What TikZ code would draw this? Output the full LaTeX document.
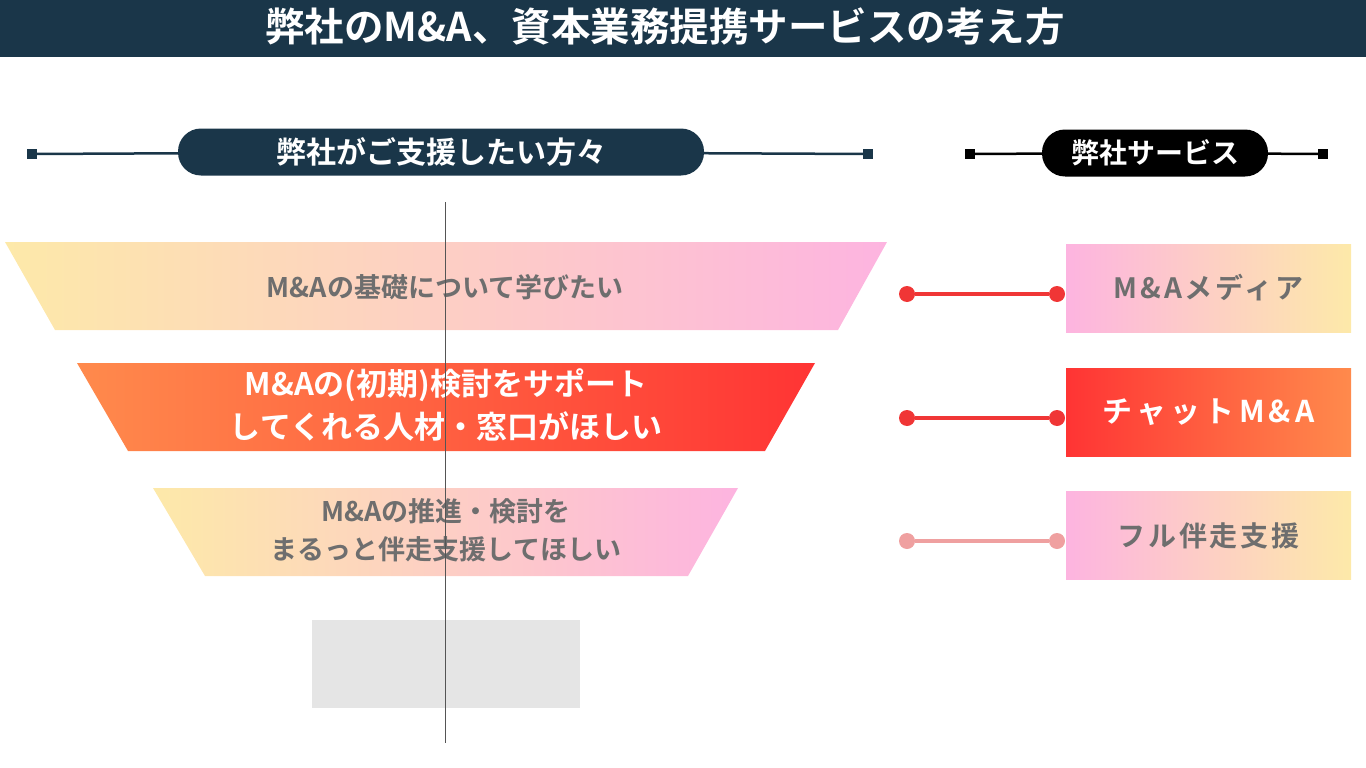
\documentclass[tikz,border=0pt]{standalone}
\usepackage{fontspec}
\setmainfont{Noto Sans CJK JP}[BoldFont={* Bold}]
\usetikzlibrary{positioning}
\definecolor{navy}{HTML}{1A3649}
\definecolor{fyellow}{HTML}{FDE9A9}
\definecolor{fpink}{HTML}{FDB4E0}
\definecolor{forange}{HTML}{FF8A4C}
\definecolor{fred}{HTML}{FF3434}
\definecolor{txtgray}{HTML}{6E6E6E}
\definecolor{linkred}{HTML}{F03636}
\definecolor{linkpale}{HTML}{EFA0A0}
\definecolor{boxgray}{HTML}{E5E5E5}
\definecolor{axisgray}{HTML}{555555}

\begin{document}
\begin{tikzpicture}[x=1pt, y=-1pt,
    every node/.style={inner sep=0pt},
    pill/.style={rounded corners=23pt, minimum height=47pt, text=white, font=\bfseries\fontsize{30}{36}\selectfont},
    tip/.style={minimum size=10pt, inner sep=0pt},
    funtxt/.style={align=center, text=txtgray, font=\bfseries\fontsize{27}{38}\selectfont},
    svc/.style={minimum width=285pt, minimum height=88pt, font=\bfseries\fontsize{28}{34}\selectfont\addfontfeature{LetterSpace=10}},
    dot/.style={circle, minimum size=16pt},
    link/.style={line width=3.5pt}
]
\useasboundingbox (0,0) rectangle (1366,768);

% title bar
\fill[navy] (0,0) rectangle (1366,57);
\node[text=white, font=\bfseries\fontsize{39.5}{46}\selectfont] (title) at (665,27) {弊社のM\&A、資本業務提携サービスの考え方};

% column headers
\node[pill, fill=navy, minimum width=526pt] (hleft) at (441,152) {弊社がご支援したい方々};
\node[tip, fill=navy] (hl1) at (32,154) {};
\node[tip, fill=navy] (hl2) at (868,154) {};
\draw[navy, line width=2.5pt] (hl1) -- (hleft);
\draw[navy, line width=2.5pt] (hleft) -- (hl2);

\node[pill, fill=black, minimum width=226pt, font=\bfseries\fontsize{28}{34}\selectfont] (hright) at (1155,153) {弊社サービス};
\node[tip, fill=black] (hr1) at (970,154) {};
\node[tip, fill=black] (hr2) at (1323,154) {};
\draw[black, line width=2.5pt] (hr1) -- (hright);
\draw[black, line width=2.5pt] (hright) -- (hr2);

% funnel
\shade[left color=fyellow, right color=fpink] (5,242) -- (887,242) -- (838,330) -- (55,330) -- cycle;
\node[funtxt] (f1) at (445,287) {M\&Aの基礎について学びたい};

\shade[left color=forange, right color=fred] (77,363) -- (815,363) -- (765,451) -- (128,451) -- cycle;
\node[funtxt, text=white, font=\bfseries\fontsize{31}{43}\selectfont] (f2) at (446,405) {M\&Aの(初期)検討をサポート\\してくれる人材・窓口がほしい};

\shade[left color=fyellow, right color=fpink] (153,488) -- (738,488) -- (688,576) -- (205,576) -- cycle;
\node[funtxt] (f3) at (446,530) {M\&Aの推進・検討を\\まるっと伴走支援してほしい};

\fill[boxgray] (312,620) rectangle (580,708);
\draw[axisgray, line width=1pt] (445,202) -- (445,743);

% services
\node[svc, left color=fpink, right color=fyellow, text=txtgray] (s1) at (1208.5,288) {M\&Aメディア};
\node[svc, left color=fred, right color=forange, text=white, font=\bfseries\fontsize{30}{36}\selectfont\addfontfeature{LetterSpace=14}] (s2) at (1208.5,412.5) {チャットM\&A};
\node[svc, left color=fpink, right color=fyellow, text=txtgray] (s3) at (1208.5,535.5) {フル伴走支援};

% links
\node[dot, fill=linkred] (a1) at (907,294) {};
\node[dot, fill=linkred] (b1) at (1057,294) {};
\draw[link, linkred] (a1) -- (b1);
\node[dot, fill=linkred] (a2) at (907,418) {};
\node[dot, fill=linkred] (b2) at (1057,418) {};
\draw[link, linkred] (a2) -- (b2);
\node[dot, fill=linkpale] (a3) at (907,541) {};
\node[dot, fill=linkpale] (b3) at (1057,541) {};
\draw[link, linkpale] (a3) -- (b3);

\end{tikzpicture}
\end{document}
